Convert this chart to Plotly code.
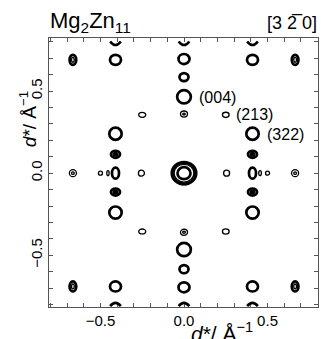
import plotly.graph_objects as go

# ---- data: diffraction spots (positions and contour extents in 1/Å) ----
# thick contour rings
thick_x = [0, 0, 0, 0, 0, 0, 0,
           -0.41, 0.41, -0.41, 0.41, -0.41, 0.41, -0.41, 0.41,
           -0.41, 0.41, -0.41, 0.41, -0.41, 0.41,
           -0.665, 0.665, -0.665, 0.665,
           0]
thick_y = [0, 0.465, -0.465, 0.585, -0.585, 0.695, -0.695,
           0.69, 0.69, -0.69, -0.69, 0.24, 0.24, -0.24, -0.24,
           0.115, 0.115, -0.115, -0.115, 0, 0,
           0.69, 0.69, -0.69, -0.69,
           0]
thick_w = [0.078, 0.082, 0.082, 0.054, 0.054, 0.066, 0.066,
           0.066, 0.066, 0.066, 0.066, 0.074, 0.074, 0.074, 0.074,
           0.054, 0.054, 0.054, 0.054, 0.042, 0.042,
           0.040, 0.040, 0.040, 0.040,
           0.146]
thick_h = [0.073, 0.080, 0.080, 0.049, 0.049, 0.061, 0.061,
           0.061, 0.061, 0.061, 0.061, 0.074, 0.074, 0.074, 0.074,
           0.043, 0.043, 0.043, 0.043, 0.067, 0.067,
           0.061, 0.061, 0.061, 0.061,
           0.136]

# thin contour rings
thin_x = [0, 0, 0, 0, -0.665, 0.665, -0.665, 0.665,
          -0.255, 0.255, -0.5, 0.5, 0.455, -0.455,
          -0.25, 0.25, -0.25, 0.25, 0.665, -0.665, 0.665, -0.665,
          0, 0]
thin_y = [0.36, -0.36, 0.36, -0.36, 0, 0, 0, 0,
          0, 0, 0, 0, 0, 0,
          0.355, 0.355, -0.355, -0.355, 0.69, 0.69, -0.69, -0.69,
          0, 0]
thin_w = [0.042, 0.042, 0.016, 0.016, 0.042, 0.042, 0.016, 0.016,
          0.036, 0.036, 0.024, 0.024, 0.016, 0.014,
          0.042, 0.040, 0.042, 0.040, 0.016, 0.016, 0.016, 0.016,
          0.118, 0.130]
thin_h = [0.037, 0.037, 0.012, 0.012, 0.043, 0.043, 0.016, 0.016,
          0.037, 0.037, 0.024, 0.024, 0.030, 0.030,
          0.030, 0.032, 0.030, 0.032, 0.030, 0.030, 0.030, 0.030,
          0.108, 0.120]

# filled cores (densely packed contours)
core_x = [-0.41, 0.41, -0.41, 0.41]
core_y = [0.115, 0.115, -0.115, -0.115]
core_w = [0.022, 0.022, 0.022, 0.022]
core_h = [0.016, 0.016, 0.016, 0.016]

# open contour fragments at the top / bottom edge (tip position, half width)
arc_x = [-0.41, 0, 0.41, -0.41, 0, 0.41]
arc_y = [0.78, 0.78, 0.78, -0.79, -0.79, -0.79]
arc_half = [0.032, 0.032, 0.032, 0.032, 0.032, 0.032]
arc_depth = [0.022, 0.022, 0.022, 0.02, 0.02, 0.02]

label_text = ["(004)", "(213)", "(322)"]
label_x = [0.075, 0.30, 0.485]
label_y = [0.463, 0.358, 0.238]

tick_vals = [-0.5, 0.0, 0.5]
tick_text = ["\u22120.5", "0.0", "0.5"]

FONT = "Liberation Sans, Arial, sans-serif"

fig = go.Figure()
fig.add_trace(go.Scatter(x=thick_x + thin_x, y=thick_y + thin_y, mode="markers",
                         marker=dict(size=1, opacity=0), hoverinfo="x+y",
                         showlegend=False))

shapes = []
def add_ellipses(xs, ys, ws, hs, lw, fill=None):
    for x, y, w, h in zip(xs, ys, ws, hs):
        shapes.append(dict(type="circle", xref="x", yref="y",
                           x0=x - w / 2, x1=x + w / 2, y0=y - h / 2, y1=y + h / 2,
                           line=dict(color="black", width=lw),
                           fillcolor=fill if fill else "rgba(0,0,0,0)",
                           layer="above"))

add_ellipses(thick_x, thick_y, thick_w, thick_h, 2.7)
add_ellipses(thin_x, thin_y, thin_w, thin_h, 1.3)
add_ellipses(core_x, core_y, core_w, core_h, 2.5, fill="black")

for x, y, hw, d in zip(arc_x, arc_y, arc_half, arc_depth):
    s = 1 if y > 0 else -1
    ye = y + s * d
    yc = y - s * d  # control point so that the curve tip lies at y
    shapes.append(dict(type="path", xref="x", yref="y",
                       path=f"M {x - hw},{ye} Q {x},{yc} {x + hw},{ye}",
                       line=dict(color="black", width=2.6), layer="above"))

annotations = []
for t, x, y in zip(label_text, label_x, label_y):
    annotations.append(dict(text=t, x=x, y=y, xref="x", yref="y", xanchor="left",
                            yanchor="middle", showarrow=False,
                            font=dict(family=FONT, size=16, color="black")))

annotations += [
    dict(text="Mg<sub>2</sub>Zn<sub>11</sub>", xref="paper", yref="paper",
         x=-0.005, y=1.0, xanchor="left", yanchor="bottom", showarrow=False,
         font=dict(family=FONT, size=22, color="black")),
    dict(text="[3\u00a02\u0305\u00a00]", xref="paper", yref="paper",
         x=1.005, y=1.012, xanchor="right", yanchor="bottom", showarrow=False,
         font=dict(family=FONT, size=18, color="black")),
    dict(text="<i>d</i>*/ \u00c5<sup>\u22121</sup>", xref="paper", yref="paper",
         x=0.52, y=-0.038, xanchor="left", yanchor="top", showarrow=False,
         font=dict(family=FONT, size=21, color="black")),
    dict(text="<i>d</i>*/ \u00c5<sup>\u22121</sup>", xref="paper", yref="paper",
         x=-0.08, y=0.70, xanchor="center", yanchor="middle", showarrow=False,
         textangle=-90, font=dict(family=FONT, size=19, color="black")),
]

axis_common = dict(showgrid=False, zeroline=False, showline=True, linecolor="#555555",
                   linewidth=1, mirror="ticks", ticks="inside", ticklen=4,
                   tickcolor="#555555", tickvals=tick_vals, ticktext=tick_text,
                   tickfont=dict(family=FONT, size=15, color="black"),
                   minor=dict(dtick=0.1, ticks="inside", ticklen=4, tickcolor="#555555"))

fig.update_layout(
    width=321, height=339,
    margin=dict(l=49, r=3, t=38, b=32),
    paper_bgcolor="white", plot_bgcolor="white",
    xaxis=dict(range=[-0.808, 0.802], **axis_common),
    yaxis=dict(range=[-0.815, 0.823], tickangle=-90, **axis_common),
    shapes=shapes, annotations=annotations, showlegend=False,
)

fig.write_html("out.html", config={"displayModeBar": False},
               post_script="document.body.style.margin='0';document.body.style.overflow='hidden';")
